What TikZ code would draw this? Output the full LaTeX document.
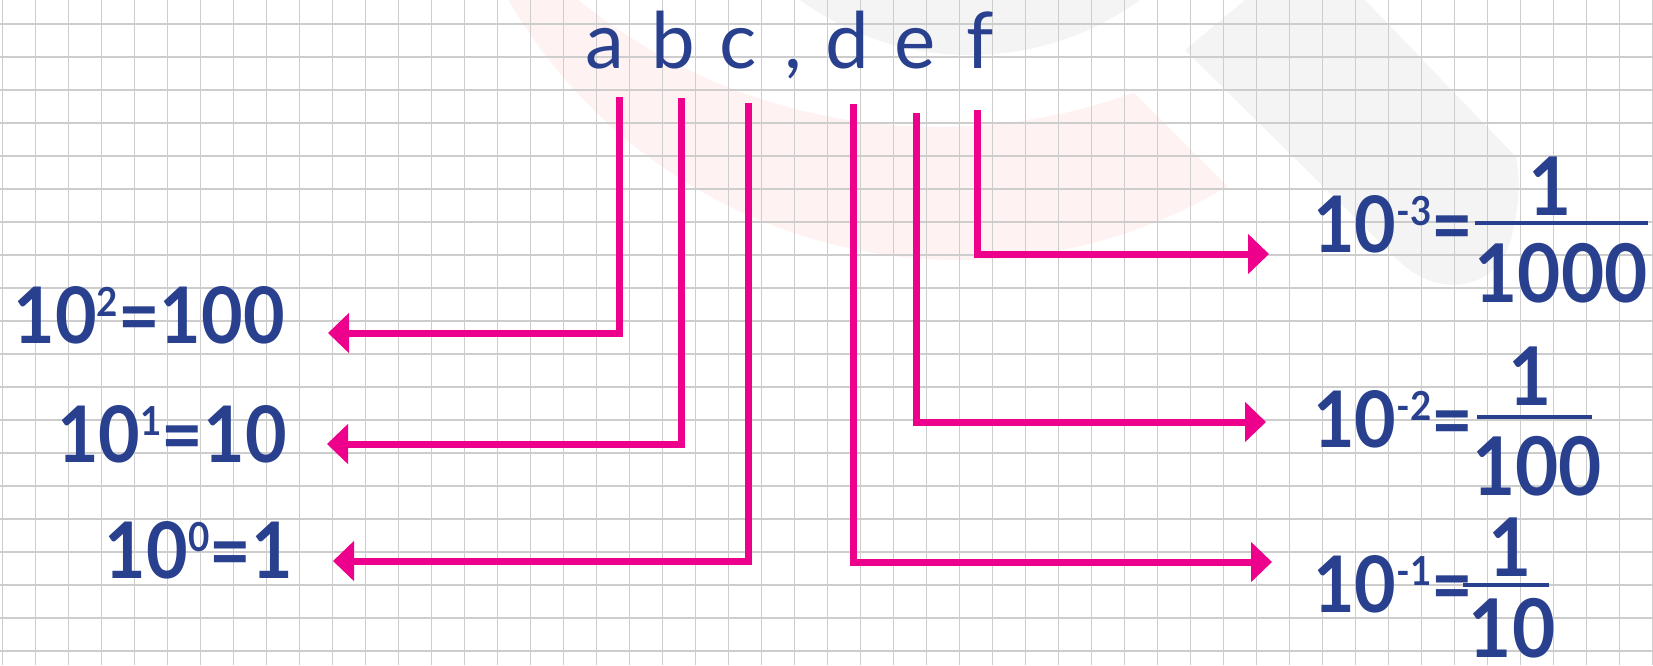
\documentclass[tikz,border=0pt]{standalone}
\usepackage{fontspec}
\setmainfont{Lato}
\newfontfamily\eqfont{Lato}[FakeStretch=0.92]
\usetikzlibrary{arrows.meta}
\definecolor{txtblue}{RGB}{41,64,142}
\definecolor{arrowpink}{RGB}{236,0,140}
\definecolor{wmpink}{RGB}{254,242,242}
\definecolor{wmgray}{RGB}{244,244,244}
\definecolor{gridgray}{RGB}{205,205,205}
\newcommand\pwr[1]{\raisebox{27pt}{\fontsize{40pt}{40pt}\selectfont #1}}
\tikzset{
  letter/.style={font={\fontsize{78pt}{78pt}\selectfont}, text=txtblue, inner sep=0pt, anchor=base},
  eq/.style={font={\eqfont\bfseries\fontsize{78pt}{78pt}\selectfont}, text=txtblue, inner sep=0pt},
  fracpart/.style={font={\eqfont\bfseries\fontsize{81pt}{81pt}\selectfont}, text=txtblue, inner sep=0pt, anchor=base},
  link/.style={draw=arrowpink, line width=7pt, line join=miter, -{Triangle[length=21pt,width=39pt]}},
  fbar/.style={draw=txtblue, line width=4pt},
  gridln/.style={draw=gridgray, line width=1.4pt}
}
\begin{document}
\begin{tikzpicture}[x=1pt,y=-1pt]
\useasboundingbox (0,0) rectangle (1653,665);
\clip (0,0) rectangle (1653,665);
\fill[white] (0,0) rectangle (1653,665);
% watermark
\begin{scope}
  \clip (0,0) -- (1041,0) -- (1706,665) -- (0,665) -- cycle;
  \fill[wmpink, even odd rule] (960,-262) circle[radius=522pt] (938,-446) circle[radius=573pt];
\end{scope}
\fill[wmgray] (970,-235) circle[radius=290pt];
\fill[wmgray] (1245,0) -- (1185,50) -- (1400,262) .. controls (1440,300) and (1500,290) .. (1512,235) .. controls (1520,200) and (1520,180) .. (1516,157) -- (1365,0) -- cycle;
% grid
\foreach \k in {0,...,50} \draw[gridln] (2.7+33*\k,0) -- (2.7+33*\k,665);
\foreach \k in {0,...,19} \draw[gridln] (0,24+33*\k) -- (1653,24+33*\k);
% digit letters
\node[letter] (la) at (605,68) {a};
\node[letter] (lb) at (673,68) {b};
\node[letter] (lc) at (738,68) {c};
\node[letter] (lcomma) at (793,68) {,};
\node[letter] (ld) at (847,68) {d};
\node[letter] (le) at (915,68) {e};
\node[letter] (lf) at (980,68) {f};
% left equations
\node[eq, anchor=base east] (e2) at (285,343) {10\pwr{2}=100};
\node[eq, anchor=base east] (e1) at (287,462) {10\pwr{1}=10};
\node[eq, anchor=base east] (e0) at (293,578) {10\pwr{0}=1};
% right equations
\node[eq, anchor=base west] (m3) at (1313,252) {10\pwr{-3}=};
\node[fracpart] (n3) at (1550,215) {1};
\node[fracpart] (d3) at (1561,302) {1000};
\draw[fbar] (1475,223) -- (1648,223);
\node[eq, anchor=base west] (m2) at (1313,447) {10\pwr{-2}=};
\node[fracpart] (n2) at (1530,405) {1};
\node[fracpart] (d2) at (1537,495) {100};
\draw[fbar] (1477,417) -- (1592,417);
\node[eq, anchor=base west] (m1) at (1313,612) {10\pwr{-1}=};
\node[fracpart] (n1) at (1510,576) {1};
\node[fracpart] (d1) at (1512,657) {10};
\draw[fbar] (1463,585) -- (1549,585);
% connectors
\coordinate (ta) at (619,97);  \coordinate (ha) at (328,333);
\coordinate (tb) at (681,98);  \coordinate (hb) at (327,444);
\coordinate (tc) at (748,103); \coordinate (hc) at (333,561);
\coordinate (td) at (853,104); \coordinate (hd) at (1272,562);
\coordinate (te) at (916,113); \coordinate (he) at (1266,422);
\coordinate (tf) at (977,110); \coordinate (hf) at (1269,254);
\draw[link] (ta) |- (ha);
\draw[link] (tb) |- (hb);
\draw[link] (tc) |- (hc);
\draw[link] (td) |- (hd);
\draw[link] (te) |- (he);
\draw[link] (tf) |- (hf);
\end{tikzpicture}
\end{document}
